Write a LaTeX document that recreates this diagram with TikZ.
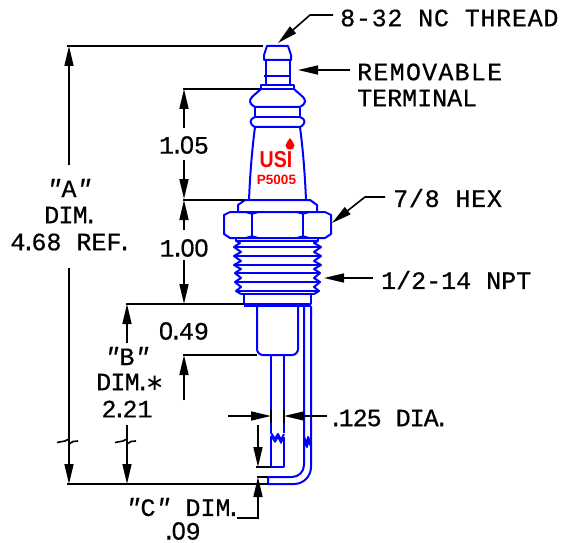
\documentclass[tikz,border=0pt]{standalone}
\usepackage{fontspec}
\newfontfamily\lblfont{Liberation Mono}[FakeBold=0.6,ItalicFont={Liberation Mono Italic}]
\newfontfamily\zerofont{Liberation Sans}[FakeBold=0.6]
\newfontfamily\starfont{DejaVu Sans}
\newfontfamily\brandfont{Liberation Sans}[BoldFont={Liberation Sans Bold}]
\usetikzlibrary{arrows.meta}
\newcommand{\zz}{{\zerofont 0}}
\newcommand{\dd}{\kern-4.5pt.\kern-4.5pt}
\newcommand{\qq}{{\itshape"}}
\tikzset{
  part/.style={draw={rgb,255:red,0;green,0;blue,255},line width=2pt,line join=round},
  thinpart/.style={draw={rgb,255:red,0;green,0;blue,255},line width=1.5pt,line join=round},
  dimline/.style={draw=black,line width=1.6pt},
  heavyline/.style={draw=black,line width=2.4pt},
  tip/.style={-{Triangle[length=20pt,width=9pt]}},
  lbl/.style={font=\lblfont\fontsize{25}{25}\selectfont,inner sep=0pt,text=black},
  brand/.style={inner sep=0pt,text=red},
}
\begin{document}
\begin{tikzpicture}[x=1pt,y=-1pt]
\useasboundingbox[fill=white] (0,0) rectangle (563,543);
% --- terminal
\draw[part] (264,60) -- (264,55) -- (267,46) -- (288,46) -- (291,55) -- (291,60) -- cycle;
\draw[part] (266,60) -- (266,85) (290,60) -- (290,85);
\draw[part] (264,76) -- (291,76);
\draw[part] (261,85) rectangle (294,89);
% --- upper beads
\draw[part] (261,89) -- (252,97) .. controls (249,100) and (249,104) .. (255,107) -- (300,107)
   .. controls (306,104) and (306,100) .. (303,97) -- (294,89);
\draw[part] (255,107) -- (255,117) (300,107) -- (300,117);
\draw[part] (255,117) -- (300,117);
\draw[part] (255,117) .. controls (249,119) and (249,124) .. (255,127) -- (300,127)
   .. controls (306,124) and (306,119) .. (300,117);
% --- body
\draw[part] (255,127) .. controls (252,150) and (250,175) .. (249,200);
\draw[part] (300,127) .. controls (303,150) and (305,175) .. (306,200);
% --- washer
\draw[part] (238,212) -- (238,205) -- (245,200) -- (310,200) -- (317,205) -- (317,212);
% --- hex
\draw[part] (230,212) -- (224,215) -- (224,234) -- (230,238) -- (325,238) -- (331,234) -- (331,215) -- (325,212) -- cycle;
\draw[part] (252,214) -- (252,236) (303,214) -- (303,236);
\draw[thinpart] (245,212) -- (252,214) -- (259,212) (296,212) -- (303,214) -- (310,212);
\draw[thinpart] (245,238) -- (252,236) -- (259,238) (296,238) -- (303,236) -- (310,238);
% --- thread
\draw[part] (236,238) -- (236,241) -- (318,241) -- (318,238);
\draw[part] (236,241) -- (240,243) -- (234,247) -- (241,252) -- (234,256) -- (241,261) -- (234,265) -- (241,269) -- (235,273) -- (241,278) -- (235,282) -- (241,287) -- (236,291) -- (241,294);
\draw[part] (318,241) -- (314,243) -- (321,247) -- (314,252) -- (321,256) -- (314,261) -- (321,265) -- (314,269) -- (320,273) -- (314,278) -- (320,282) -- (314,287) -- (319,291) -- (314,294);
\draw[part] (234,247) -- (321,247) (234,256) -- (321,256) (234,265) -- (321,265) (235,273) -- (320,273) (235,282) -- (320,282) (236,291) -- (319,291);
\draw[part] (241,294) -- (314,294);
% --- base
\draw[part] (244,294) -- (244,304) -- (311,304) -- (311,294);
\draw[thinpart] (244,306) -- (311,306);
% --- sleeve
\draw[part] (257,306) -- (257,349) arc[start angle=180,end angle=90,radius=6] -- (292,355) arc[start angle=90,end angle=0,radius=6] -- (298,306);
% --- electrode
\draw[part] (271,355) -- (271,433) (284,355) -- (284,433);
\draw[part] (271,433) -- (275,439) -- (278,434) -- (281,440) -- (284,434);
\draw[thinpart] (271,436) -- (275,442) -- (278,437) -- (281,443) -- (284,437);
\draw[part] (271,436) -- (271,467) -- (284,467) -- (284,437);
% --- ground wire
\draw[part] (304,306) -- (304,465) arc[start angle=0,end angle=90,radius=12] -- (268,477);
\draw[part] (311,306) -- (311,467) arc[start angle=0,end angle=90,radius=17] -- (268,484) -- (268,477);
\draw[part] (304,437) -- (307,444) -- (308,437) -- (311,443);
\draw[part] (304,441) -- (307,447) -- (308,441) -- (311,446);
% --- extension lines
\draw[dimline] (67,46) -- (263,46);
\draw[dimline] (183,89) -- (260,89);
\draw[dimline] (183,200) -- (244,200);
\draw[dimline] (126,304) -- (244,304);
\draw[dimline] (183,355) -- (257,355);
\draw[dimline] (67,484) -- (127,484);
\draw[heavyline] (127,484) -- (268,484);
\draw[dimline] (256,467) -- (271,467);
\draw[dimline] (257,477) -- (268,477);
% --- A
\node[lbl] (dimA1) at (69,188) {\qq A\qq};
\node[lbl] (dimA2) at (69,215) {\addfontfeature{LetterSpace=-3}DIM\dd};
\node[lbl] (dimA3) at (69,242) {4\dd68 REF\dd};
\coordinate (aTop) at (69,46);
\coordinate (aBot) at (69,484);
\draw[dimline,tip] (69,165) -- (aTop);
\draw[dimline] (69,268) -- (69,439);
\draw[dimline] (57,442.5) -- (65,441) -- (69,439) -- (69,444) -- (73,441.5) -- (78,441);
\draw[dimline,tip] (69,444) -- (aBot);
% --- B
\node[lbl] (dimB1) at (127,356) {\qq B\qq};
\node[lbl,anchor=west] (dimB2) at (96,382) {\addfontfeature{LetterSpace=-3}DIM\kern-4.5pt.\kern-5pt{\starfont\fontsize{23}{23}\selectfont ∗}};
\node[lbl] (dimB3) at (127,409) {2\dd21};
\coordinate (bTop) at (127,304);
\coordinate (bBot) at (127,484);
\draw[dimline,tip] (127,343) -- (bTop);
\draw[dimline] (127,425) -- (127,439);
\draw[dimline] (115,442.5) -- (123,441) -- (127,439) -- (127,444) -- (131,441.5) -- (136,441);
\draw[dimline,tip] (127,444) -- (bBot);
% --- 1.05, 1.00, 0.49
\node[lbl] (d105) at (184,145) {1\dd\zz5};
\draw[dimline,tip] (184,128) -- (184,89);
\draw[dimline,tip] (184,160) -- (184,199);
\node[lbl] (d100) at (184,248) {1\dd\zz\zz};
\draw[dimline,tip] (184,230) -- (184,200);
\draw[dimline,tip] (184,260) -- (184,304);
\node[lbl] (d049) at (184,331) {\zz\dd49};
\draw[dimline,tip] (184,400) -- (184,355);
% --- .125 DIA
\node[lbl,anchor=west] (dDia) at (328,418) {\addfontfeature{LetterSpace=-4}.\kern-4.5pt 125 DIA\dd};
\draw[dimline,tip] (228,416) -- (271,416);
\draw[dimline,tip] (327,416) -- (284,416);
\draw[heavyline] (271,410) -- (271,423) (284,410) -- (284,423);
% --- C
\node[lbl] (dimC1) at (181,507) {\qq C\qq{} DIM\dd};
\node[lbl] (dimC2) at (181,531) {.\kern-4.5pt\zz9};
\draw[dimline,tip] (258,425) -- (258,467);
\draw[dimline,tip] (237,518) -- (258,518) -- (258,477);
% --- leaders
\node[lbl,anchor=west] (lThread) at (340,18) {\addfontfeature{LetterSpace=3}8-32 NC THREAD};
\draw[dimline,tip] (333,15) -- (310,15) -- (278,43);
\node[lbl,anchor=west] (lTerm1) at (357,72) {\addfontfeature{LetterSpace=5}REMOVABLE};
\node[lbl,anchor=west] (lTerm2) at (357,98) {TERMINAL};
\draw[dimline,tip] (350,70) -- (298,70);
\node[lbl,anchor=west] (lHex) at (393,198) {\addfontfeature{LetterSpace=3}7/8 HEX};
\draw[dimline,tip] (385,197) -- (365,197) -- (332,223);
\node[lbl,anchor=west] (lNpt) at (381,280) {1/2-14 NPT};
\draw[dimline,tip] (373,278) -- (324,278);
% --- brand
\node[brand,font=\brandfont\bfseries\fontsize{23}{23}\selectfont,xscale=0.85] (usi) at (276,159.5) {USI};
\node[brand,font=\brandfont\bfseries\fontsize{13.5}{13.5}\selectfont] (pnum) at (276.5,179.5) {P5005};
\fill[red] (290,138) .. controls (291,141) and (294.5,142) .. (294.5,145.5) .. controls (294.5,151) and (285.5,151) .. (285.5,145.5) .. controls (285.5,142) and (289,141) .. (290,138) -- cycle;
\end{tikzpicture}
\end{document}
